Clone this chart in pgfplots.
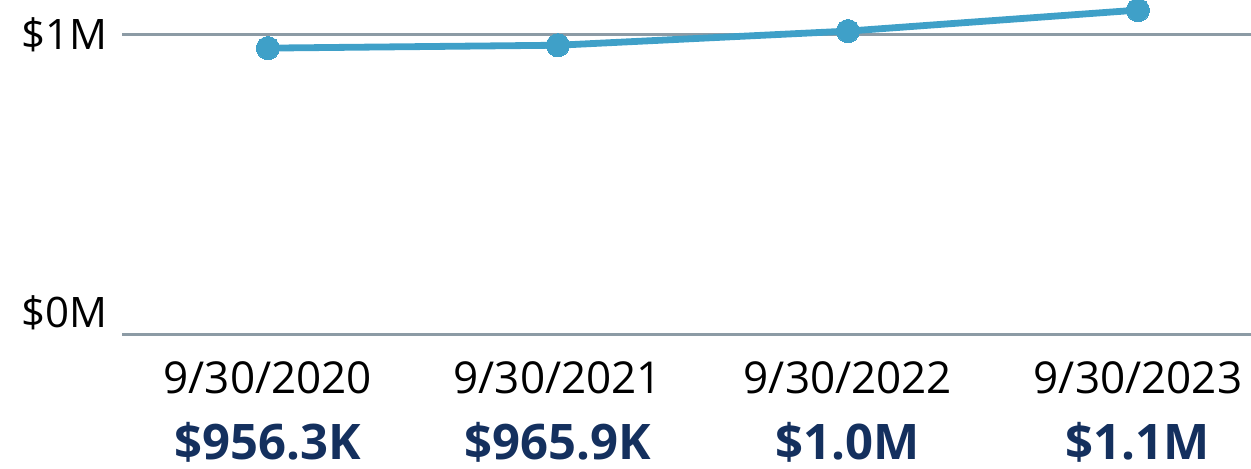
\documentclass[border=0pt]{standalone}
\usepackage{fontspec}
\setmainfont{Open Sans}
\usepackage{pgfplots}
\pgfplotsset{compat=1.18}
\definecolor{linec}{HTML}{3FA0C8}
\definecolor{gridc}{HTML}{8C9BA5}
\definecolor{navy}{HTML}{14305E}
\begin{document}
\begin{tikzpicture}[x=0.5pt,y=0.5pt,
  datelbl/.style={font=\fontsize{22}{26}\selectfont, yshift=-21.5pt},
  vallbl/.style={font=\fontsize{24.5}{28}\selectfont\bfseries, text=navy, yshift=-53.5pt}]
\useasboundingbox (0,0) rectangle (1251,469);
\begin{axis}[
  at={(61pt,67pt)}, anchor=south west,
  scale only axis, width=564.5pt, height=167.5pt,
  xmin=-0.503, xmax=3.39, ymin=0, ymax=1.1167,
  axis lines=none, clip=false,
  xtick=\empty, ytick=\empty,
]
\draw[gridc, line width=1.5pt] (axis cs:-0.503,0) -- (axis cs:3.39,0);
\draw[gridc, line width=1.5pt] (axis cs:-0.503,1) -- (axis cs:3.39,1);
\node[anchor=east, inner sep=0pt, font=\fontsize{21}{25}\selectfont, xshift=-7pt] at (axis cs:-0.503,1) {\$1M};
\node[anchor=east, inner sep=0pt, font=\fontsize{21}{25}\selectfont, xshift=-7pt, yshift=11pt] at (axis cs:-0.503,0) {\$0M};
\addplot[linec, line width=3.4pt, mark=*, mark size=5.8pt, mark options={fill=linec, draw=linec, line width=0pt}]
  coordinates {(0,0.9563) (1,0.9659) (2,1.013) (3,1.083)};
\node[datelbl] at (axis cs:0,0) {9/30/2020};
\node[datelbl] at (axis cs:1,0) {9/30/2021};
\node[datelbl] at (axis cs:2,0) {9/30/2022};
\node[datelbl] at (axis cs:3,0) {9/30/2023};
\node[vallbl] at (axis cs:0,0) {\$956.3K};
\node[vallbl] at (axis cs:1,0) {\$965.9K};
\node[vallbl] at (axis cs:2,0) {\$1.0M};
\node[vallbl] at (axis cs:3,0) {\$1.1M};
\end{axis}
\end{tikzpicture}
\end{document}
